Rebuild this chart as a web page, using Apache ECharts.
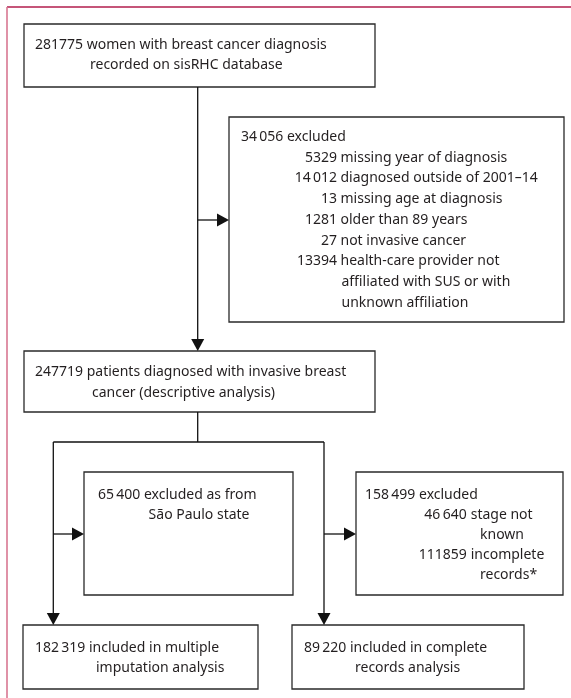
<!DOCTYPE html>
<html><head><meta charset="utf-8">
<script src="https://cdn.jsdelivr.net/npm/echarts@6/dist/echarts.min.js"></script>
<style>html,body{margin:0;padding:0;background:#fff}#c{width:571px;height:698px}</style>
</head><body><div id="c"></div>
<script>
// ---- flowchart text / counts ----
const startLabel = ['281775 women with breast cancer diagnosis', 'recorded on sisRHC database'];
const excludedTotal = '34\u2009056 excluded';
const exclusionCounts = ['5329', '14\u2009012', '13', '1281', '27', '13394'];
const exclusionReasons = ['missing year of diagnosis', 'diagnosed outside of 2001–14', 'missing age at diagnosis', 'older than 89 years', 'not invasive cancer', 'health-care provider not'];
const exclusionReasonCont = ['affiliated with SUS or with', 'unknown affiliation'];
const cohortLabel = ['247719 patients diagnosed with invasive breast', 'cancer (descriptive analysis)'];
const spLabel = ['65\u2009400 excluded as from', 'São Paulo state'];
const ccExcludedTotal = '158\u2009499 excluded';
const ccCounts = ['46\u2009640', '111859'];
const ccReasons = ['stage not', 'incomplete'];
const ccReasonCont = ['known', 'records*'];
const miLabel = ['182\u2009319 included in multiple', 'imputation analysis'];
const crLabel = ['89\u2009220 included in complete', 'records analysis'];

// ---- layout (in axis units = pixels of a 571x698 canvas) ----
const W = 571, H = 698;
const boxes = [
  [24, 24, 375, 87],
  [229, 117, 564, 322],
  [24, 351, 375, 412],
  [84, 472, 293, 595],
  [356, 472, 563, 595],
  [23, 625, 258, 689],
  [292, 625, 524, 689]
];
const connectors = [
  { pts: [[197.7, 87], [197.7, 351]], arrow: true },
  { pts: [[197.7, 220], [229, 220]], arrow: true },
  { pts: [[197.7, 412], [197.7, 442]], arrow: false },
  { pts: [[53.3, 442], [324, 442]], arrow: false },
  { pts: [[53.3, 442], [53.3, 625]], arrow: true },
  { pts: [[324, 442], [324, 625]], arrow: true },
  { pts: [[53.3, 534], [84, 534]], arrow: true },
  { pts: [[324, 534], [356, 534]], arrow: true }
];
const frame = [
  { pts: [[7, 7], [W, 7]], color: '#b21d4d' },
  { pts: [[7, 7], [7, H]], color: '#d87792' }
];

const texts = [];
function T(t, x, y, align) { texts.push({ t, x, y, align: align || 'left' }); }
T(startLabel[0], 35, 45); T(startLabel[1], 90, 65);
T(excludedTotal, 241, 137);
exclusionCounts.forEach((c, i) => {
  const y = 157.75 + i * 20.75;
  T(c, 337, y, 'right');
  T(exclusionReasons[i], 340.5, y);
});
exclusionReasonCont.forEach((c, i) => T(c, 341.5, 282.25 + i * 20.75));
T(cohortLabel[0], 35, 372); T(cohortLabel[1], 92, 393);
T(spLabel[0], 98, 495); T(spLabel[1], 148.6, 515);
T(ccExcludedTotal, 365, 495);
ccCounts.forEach((c, i) => {
  const y = 515 + i * 40;
  T(c, 466.7, y, 'right');
  T(ccReasons[i], 470.7, y);
  T(ccReasonCont[i], 480, y + 20);
});
T(miLabel[0], 35, 648); T(miLabel[1], 96, 668);
T(crLabel[0], 304, 648); T(crLabel[1], 355, 668);

const FONT = '14px "Noto Sans"';
const INK = '#231f20';
const LINE = '#2a2a2a';

const chart = echarts.init(document.getElementById('c'), null, { renderer: 'canvas' });
chart.setOption({
  animation: false,
  backgroundColor: '#fff',
  grid: { left: 0, right: 0, top: 0, bottom: 0 },
  xAxis: { type: 'value', min: 0, max: W, show: false },
  yAxis: { type: 'value', min: 0, max: H, inverse: true, show: false },
  series: [
    {
      type: 'custom', clip: false, silent: true,
      data: frame.map((f, i) => [f.pts[0][0], f.pts[0][1], f.pts[1][0], f.pts[1][1]]),
      encode: { x: [0, 2], y: [1, 3] },
      renderItem: (params, api) => {
        const a = api.coord([api.value(0), api.value(1)]);
        const b = api.coord([api.value(2), api.value(3)]);
        return { type: 'line', shape: { x1: a[0], y1: a[1], x2: b[0], y2: b[1] },
          style: { stroke: frame[params.dataIndex].color, lineWidth: 1.6 } };
      }
    },
    {
      type: 'custom', clip: false, silent: true,
      data: boxes,
      encode: { x: [0, 2], y: [1, 3] },
      renderItem: (params, api) => {
        const a = api.coord([api.value(0), api.value(1)]);
        const b = api.coord([api.value(2), api.value(3)]);
        return { type: 'rect', shape: { x: a[0], y: a[1], width: b[0] - a[0], height: b[1] - a[1] },
          style: { fill: '#fff', stroke: LINE, lineWidth: 1.3 } };
      }
    },
    {
      type: 'custom', clip: false, silent: true,
      data: connectors.map(c => [c.pts[0][0], c.pts[0][1], c.pts[1][0], c.pts[1][1]]),
      encode: { x: [0, 2], y: [1, 3] },
      renderItem: (params, api) => {
        const a = api.coord([api.value(0), api.value(1)]);
        const b = api.coord([api.value(2), api.value(3)]);
        const children = [];
        const arrow = connectors[params.dataIndex].arrow;
        const L = 12, HW = 6.5;
        const dx = b[0] - a[0], dy = b[1] - a[1];
        const len = Math.sqrt(dx * dx + dy * dy);
        const ux = dx / len, uy = dy / len;
        const endX = arrow ? b[0] - ux * (L - 1) : b[0];
        const endY = arrow ? b[1] - uy * (L - 1) : b[1];
        children.push({ type: 'line', shape: { x1: a[0], y1: a[1], x2: endX, y2: endY },
          style: { stroke: '#111', lineWidth: 1.3 } });
        if (arrow) {
          const bx = b[0] - ux * L, by = b[1] - uy * L;
          children.push({ type: 'polygon', shape: { points: [
            [b[0], b[1]], [bx - uy * HW, by + ux * HW], [bx + uy * HW, by - ux * HW]] },
            style: { fill: '#111' } });
        }
        return { type: 'group', children };
      }
    },
    {
      type: 'custom', clip: false, silent: true,
      data: texts.map(t => [t.x, t.y]),
      encode: { x: 0, y: 1 },
      renderItem: (params, api) => {
        const p = api.coord([api.value(0), api.value(1)]);
        const t = texts[params.dataIndex];
        return { type: 'text', x: p[0], y: p[1],
          style: { text: t.t, font: FONT, fill: INK, align: t.align, verticalAlign: 'middle' } };
      }
    }
  ]
});
</script>
</body></html>
